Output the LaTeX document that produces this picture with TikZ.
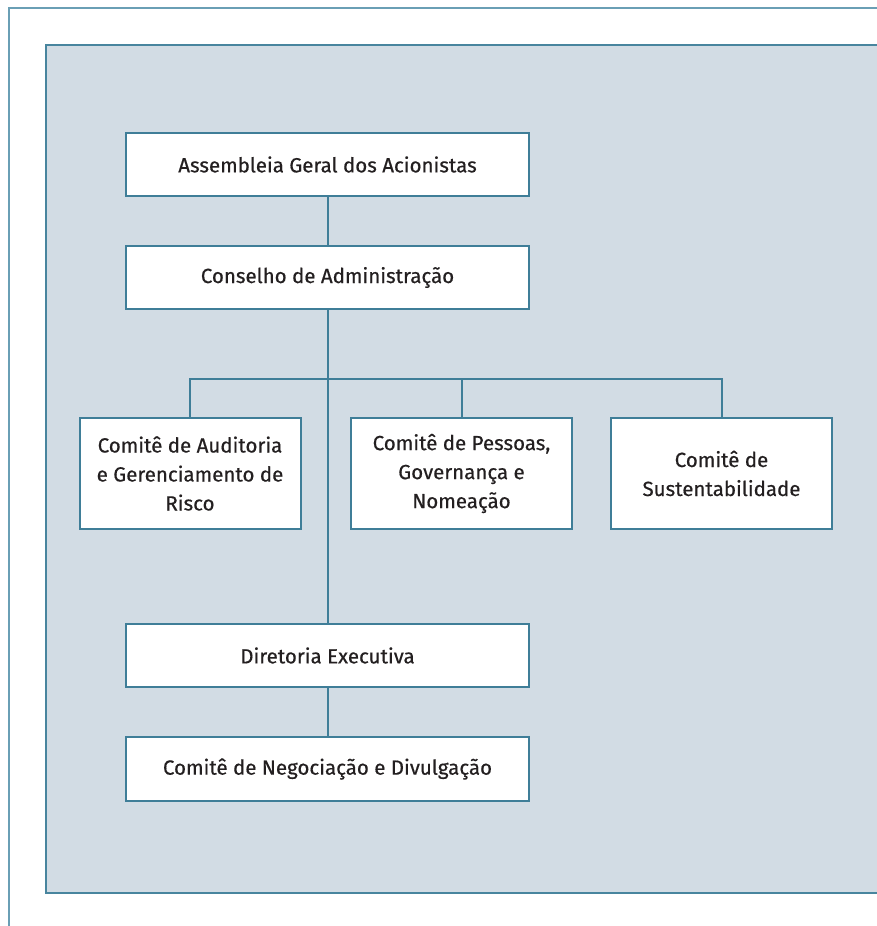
\documentclass[tikz,border=0pt]{standalone}
\usepackage{fontspec}
\setmainfont{Fira Sans}[FakeBold=0.5]
\definecolor{panel}{HTML}{D2DCE4}
\definecolor{lineblue}{HTML}{3F7E98}
\definecolor{frameblue}{HTML}{6A9FB5}
\definecolor{txt}{HTML}{231F20}
\begin{document}
\begin{tikzpicture}[x=1pt,y=-1pt,
  orgbox/.style={draw=lineblue, line width=2pt, fill=white, text=txt,
    align=center, inner sep=0pt, font=\fontsize{20.5}{29}\selectfont},
  wide/.style={orgbox, minimum width=403pt, minimum height=63pt},
  comm/.style={orgbox, minimum width=221pt, minimum height=111pt},
  conn/.style={draw=lineblue, line width=2pt}]
\useasboundingbox (0,0) rectangle (877,926);
% outer frame
\draw[frameblue, line width=2.4pt] (9,930) -- (9,8) -- (880,8);
% panel
\fill[panel] (46,45) rectangle (880,893);
\draw[lineblue!80!frameblue, line width=2pt] (880,45) -- (46,45) -- (46,893) -- (880,893);
% nodes
\node[wide] (ag) at (327.5,164.5) {Assembleia Geral dos Acionistas};
\node[wide] (ca) at (327.5,277.5) {Conselho de Administração};
\node[comm] (cau) at (190,473.5) {Comitê de Auditoria\\e Gerenciamento de\\Risco};
\node[comm] (cpg) at (461.5,473.5) {Comitê de Pessoas,\\Governança e\\Nomeação};
\node[comm] (cs) at (721.5,473.5) {Comitê de\\Sustentabilidade};
\node[wide] (de) at (327.5,655.5) {Diretoria Executiva};
\node[wide, minimum height=64pt] (cnd) at (327.5,769) {Comitê de Negociação e Divulgação};
% connectors
\coordinate (busL) at (190,379);
\coordinate (busR) at (721.5,379);
\draw[conn] (ag.south) -- (ca.north);
\draw[conn] (ca.south) -- (de.north);
\draw[conn] (de.south) -- (cnd.north);
\draw[conn] (cau.north) -- (busL) -- (busR) -- (cs.north);
\draw[conn] (cpg.north) -- (cpg.north |- busL);
\end{tikzpicture}
\end{document}
